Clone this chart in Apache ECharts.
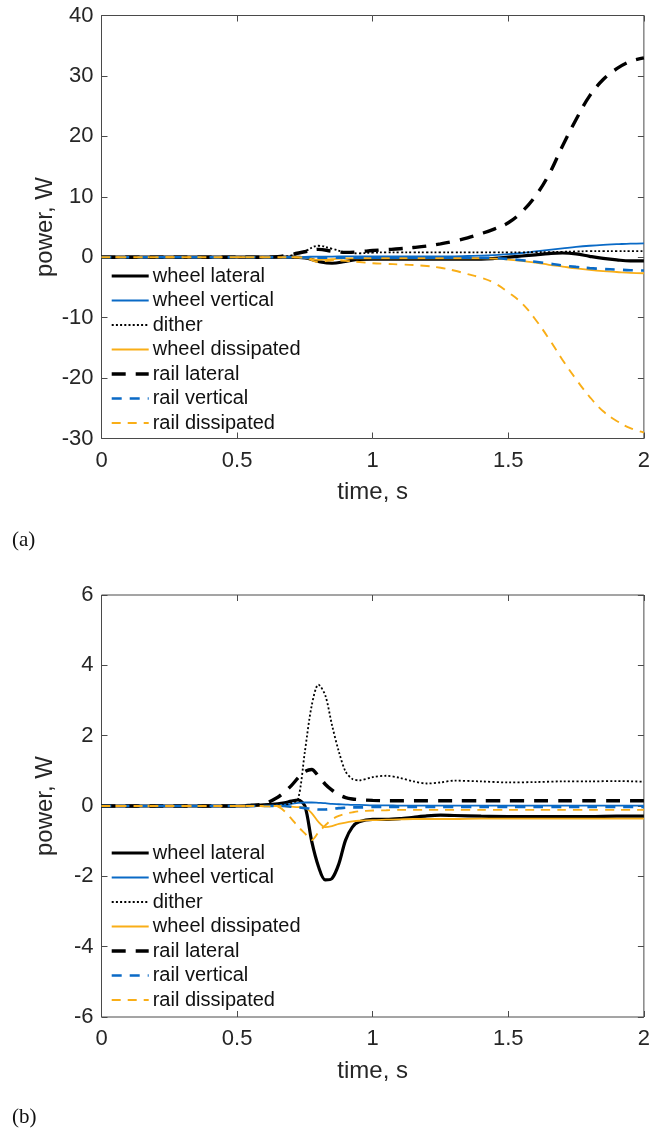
<!DOCTYPE html>
<html><head><meta charset="utf-8">
<script src="https://cdn.jsdelivr.net/npm/echarts@6/dist/echarts.min.js"></script>
<style>html,body{margin:0;padding:0;background:#fff}#c{width:653px;height:1128px}</style>
</head><body><div id="c"></div>
<script>
// ---------- data ----------
const seriesNames = ['wheel lateral','wheel vertical','dither','wheel dissipated','rail lateral','rail vertical','rail dissipated'];
const xTicks = [0, 0.5, 1, 1.5, 2];
const yTicksA = [-30, -20, -10, 0, 10, 20, 30, 40];
const yTicksB = [-6, -4, -2, 0, 2, 4, 6];

// panel (a)
const timeA = [0,0.2,0.4,0.6,0.65,0.7,0.75,0.8,0.85,0.9,0.95,1,1.05,1.1,1.15,1.2,1.25,1.3,1.35,1.4,1.45,1.5,1.55,1.6,1.65,1.7,1.75,1.8,1.85,1.9,1.95,2];
const wheelLateralA   = [0,0,0,0, 0,0,-0.1,-0.7,-1.0,-0.7,-0.35,-0.3,-0.3,-0.3,-0.3,-0.3,-0.3,-0.3,-0.3,-0.3,-0.2,0,0.2,0.4,0.6,0.7,0.55,0.15,-0.2,-0.45,-0.6,-0.6];
const wheelVerticalA  = [0,0,0,0, 0,0,0.05,0.1,0.1,0.15,0.15,0.15,0.15,0.15,0.15,0.15,0.15,0.15,0.2,0.25,0.35,0.5,0.7,0.95,1.2,1.45,1.7,1.9,2.05,2.15,2.25,2.3];
const ditherA         = [0,0,0,0, 0,0.3,1.0,1.9,1.4,0.8,0.65,0.75,0.8,0.8,0.8,0.8,0.8,0.8,0.8,0.8,0.8,0.8,0.8,0.85,0.85,0.9,0.95,1.0,1.0,1.0,1.0,1.0];
const wheelDissA      = [0,0,0,0, 0,0,-0.1,-0.45,-0.3,-0.2,-0.2,-0.2,-0.2,-0.2,-0.2,-0.2,-0.2,-0.2,-0.2,-0.2,-0.25,-0.4,-0.6,-0.9,-1.25,-1.55,-1.85,-2.1,-2.3,-2.45,-2.6,-2.65];
const railLateralA    = [0,0,0,0, 0.1,0.45,0.9,1.3,1.0,0.8,0.9,1.1,1.25,1.4,1.6,1.85,2.2,2.65,3.2,3.9,4.7,5.7,7.5,10.1,13.7,18.4,22.8,26.7,29.4,31.2,32.4,33.0];
const railVerticalA   = [0,0,0,0, 0,0,-0.05,-0.1,-0.1,-0.1,-0.1,-0.1,-0.1,-0.1,-0.1,-0.1,-0.1,-0.1,-0.1,-0.1,-0.15,-0.3,-0.5,-0.75,-1.05,-1.35,-1.6,-1.8,-1.95,-2.05,-2.15,-2.2];
const railDissA       = [0,0,0,0, 0,0,-0.1,-0.8,-0.5,-0.6,-0.8,-1.0,-1.1,-1.2,-1.3,-1.45,-1.75,-2.2,-2.8,-3.4,-4.3,-5.8,-7.6,-10.3,-13.5,-17.0,-20.2,-23.1,-25.5,-27.1,-28.3,-29.0];

// panel (b)
const timeB = [0,0.2,0.4,0.5,0.55,0.6,0.65,0.675,0.7,0.725,0.75,0.775,0.8,0.825,0.85,0.875,0.9,0.925,0.95,1,1.05,1.1,1.15,1.2,1.25,1.3,1.4,1.5,1.6,1.7,1.8,1.9,2];
const wheelLateralB   = [0,0,0,0,0.01,0.03, 0.06,0.09,0.14,0.17,0.0,-1.0,-1.72,-2.1,-2.06,-1.65,-0.97,-0.6,-0.45, -0.38,-0.38,-0.36,-0.32,-0.28,-0.26,-0.27, -0.29,-0.3,-0.3,-0.3,-0.3,-0.29,-0.29];
const wheelVerticalB  = [0,0,0,0,0,0, 0.02,0.04,0.06,0.09,0.1,0.1,0.09,0.08,0.06,0.05,0.04,0.03,0.03, 0.02,0.02,0.01,0.01,0.01,0.01,0.01, 0.01,0.01,0.01,0.01,0.01,0.01,0.01];
const ditherB         = [0,0,0,0,0,0.01, 0.02,0.04,0.08,0.2,1.55,2.85,3.45,3.15,2.3,1.55,0.98,0.77,0.73, 0.82,0.86,0.8,0.7,0.64,0.67,0.72, 0.7,0.67,0.68,0.7,0.7,0.71,0.69];
const wheelDissB      = [0,0,0,0,0,0, 0,-0.01,-0.02,-0.03,-0.05,-0.2,-0.45,-0.6,-0.57,-0.51,-0.47,-0.44,-0.42, -0.4,-0.39,-0.38,-0.37,-0.37,-0.37,-0.37, -0.36,-0.36,-0.36,-0.36,-0.36,-0.36,-0.36];
const railLateralB    = [0,0,0,0,0.02,0.06, 0.25,0.4,0.58,0.8,0.98,1.04,0.85,0.62,0.45,0.32,0.24,0.2,0.18, 0.16,0.15,0.15,0.15,0.15,0.15,0.15, 0.15,0.15,0.15,0.15,0.15,0.15,0.15];
const railVerticalB   = [0,0,0,0,0,0, 0,0,-0.02,-0.04,-0.06,-0.08,-0.1,-0.1,-0.08,-0.06,-0.05,-0.04,-0.04, -0.03,-0.03,-0.03,-0.03,-0.03,-0.03,-0.03, -0.03,-0.03,-0.03,-0.03,-0.03,-0.03,-0.03];
const railDissB       = [0,0,0,0,0,-0.01, -0.02,-0.15,-0.36,-0.59,-0.78,-0.97,-0.75,-0.55,-0.38,-0.28,-0.22,-0.18,-0.15, -0.13,-0.12,-0.11,-0.11,-0.11,-0.11,-0.11, -0.11,-0.11,-0.11,-0.11,-0.11,-0.11,-0.11];

// ---------- styling ----------
const BLUE = '#0A6AC6', ORANGE = '#F9AE17', AX = '#4a4a4a', TXT = '#262626';
const FONT = '"Liberation Sans", Arial, Helvetica, sans-serif';
const lineStyles = [
  {color:'#000', width:3.2, type:'solid'},
  {color:BLUE, width:1.8, type:'solid'},
  {color:'#000', width:1.8, type:[2,2.2]},
  {color:ORANGE, width:1.8, type:'solid'},
  {color:'#000', width:3.4, type:[14,10]},
  {color:BLUE, width:2.6, type:[10,8]},
  {color:ORANGE, width:1.9, type:[9,7]}
];
const panelA = [wheelLateralA, wheelVerticalA, ditherA, wheelDissA, railLateralA, railVerticalA, railDissA];
const panelB = [wheelLateralB, wheelVerticalB, ditherB, wheelDissB, railLateralB, railVerticalB, railDissB];

function mkSeries(times, arrs, axisIdx, sm) {
  return arrs.map((arr, k) => ({
    name: seriesNames[k], type: 'line', xAxisIndex: axisIdx, yAxisIndex: axisIdx,
    data: times.map((t, i) => [t, arr[i]]),
    symbol: 'none', smooth: sm,
    lineStyle: lineStyles[k], itemStyle: {color: lineStyles[k].color},
    emphasis: {disabled: true}, silent: true, z: 2 + k
  }));
}
function xAx(grid, pos, ticks, withLabels) {
  const a = {
    gridIndex: grid, type: 'value', position: pos,
    min: ticks[0], max: ticks[ticks.length-1], interval: ticks[1]-ticks[0],
    axisLine: {show: false, onZero: false}, splitLine: {show: false},
    axisTick: {show: true, inside: true, length: 6, lineStyle: {color: AX, width: 1}},
    axisLabel: {show: withLabels, fontSize: 22, color: TXT, margin: 11, fontFamily: FONT}
  };
  if (withLabels) {
    a.name = 'time, s'; a.nameLocation = 'middle'; a.nameGap = 42; a.nameMoveOverlap = false;
    a.nameTextStyle = {fontSize: 24, color: TXT, fontFamily: FONT};
  }
  return a;
}
function yAx(grid, pos, ticks, withLabels) {
  const a = {
    gridIndex: grid, type: 'value', position: pos,
    min: ticks[0], max: ticks[ticks.length-1], interval: ticks[1]-ticks[0],
    axisLine: {show: false, onZero: false}, splitLine: {show: false},
    axisTick: {show: true, inside: true, length: 6, lineStyle: {color: AX, width: 1}},
    axisLabel: {show: withLabels, fontSize: 22, color: TXT, margin: 8, fontFamily: FONT}
  };
  if (withLabels) {
    a.name = 'power, W'; a.nameLocation = 'middle'; a.nameGap = 44; a.nameRotate = 90; a.nameMoveOverlap = false;
    a.nameTextStyle = {fontSize: 24, color: TXT, fontFamily: FONT};
  }
  return a;
}
function mkLegend(top) {
  return {
    orient: 'vertical', left: 110, top: top, itemWidth: 37, itemHeight: 14, itemGap: 4.5,
    data: seriesNames, selectedMode: false, padding: 0,
    textStyle: {fontSize: 20, color: '#111', fontFamily: FONT, padding: [0,0,0,-1]},
    itemStyle: {opacity: 0, borderWidth: 0},
    lineStyle: {width: 'inherit', type: 'inherit'}
  };
}

const chart = echarts.init(document.getElementById('c'), null, {renderer: 'canvas'});
chart.setOption({
  animation: false,
  backgroundColor: '#fff',
  textStyle: {fontFamily: FONT},
  title: [
    {text: '(a)', left: 7, top: 525, textStyle: {fontFamily: '"Liberation Serif", "DejaVu Serif", serif', fontSize: 21, fontWeight: 'normal', color: '#111'}},
    {text: '(b)', left: 7, top: 1102, textStyle: {fontFamily: '"Liberation Serif", "DejaVu Serif", serif', fontSize: 21, fontWeight: 'normal', color: '#111'}}
  ],
  grid: [
    {left: 101.5, top: 15.5, width: 546.5, height: 423, show: true, borderColor: AX, borderWidth: 1, backgroundColor: 'transparent'},
    {left: 101.5, top: 595, width: 546.5, height: 422, show: true, borderColor: AX, borderWidth: 1, backgroundColor: 'transparent'}
  ],
  legend: [mkLegend(266), mkLegend(843)],
  xAxis: [xAx(0,'bottom',xTicks,true), xAx(0,'top',xTicks,false), xAx(1,'bottom',xTicks,true), xAx(1,'top',xTicks,false)],
  yAxis: [yAx(0,'left',yTicksA,true), yAx(0,'right',yTicksA,false), yAx(1,'left',yTicksB,true), yAx(1,'right',yTicksB,false)],
  series: mkSeries(timeA, panelA, 0, 0.4).concat(mkSeries(timeB, panelB, 2, 0.3))
});
</script>
</body></html>
